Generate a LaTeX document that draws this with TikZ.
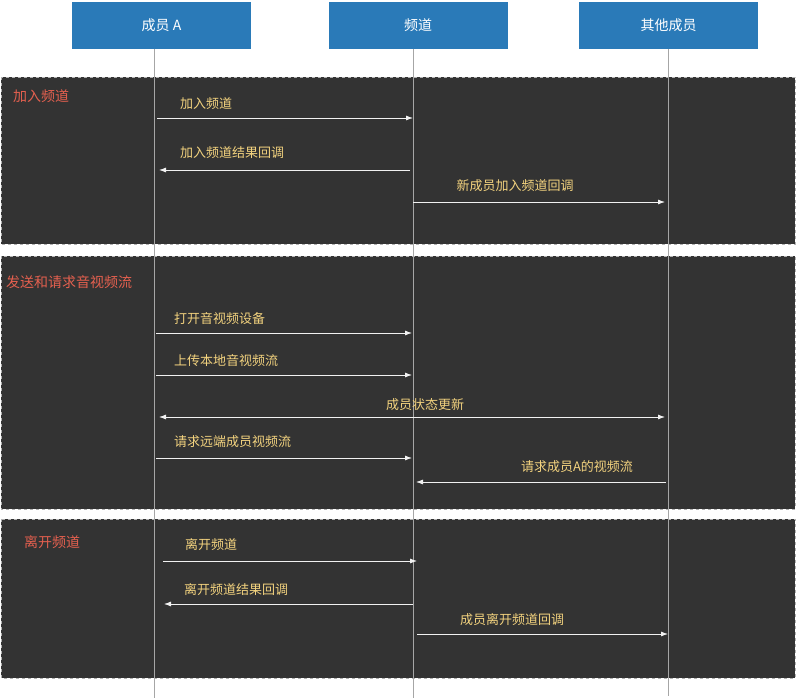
\documentclass[tikz,border=0pt]{standalone}
\usepackage{fontspec}
\setmainfont{Noto Sans CJK SC}
\usetikzlibrary{calc, arrows.meta}
\definecolor{hdrblue}{HTML}{2A7AB8}
\definecolor{panel}{HTML}{333333}
\definecolor{seclbl}{HTML}{E5604F}
\definecolor{msglbl}{HTML}{F2D27E}
\tikzset{
    header/.style={fill=hdrblue, text=white, minimum width=179pt, minimum height=47pt, inner sep=0pt, font=\fontsize{14}{16}\selectfont},
    section/.style={fill=panel, draw=gray!60, dashed},
    seclabel/.style={text=seclbl, anchor=west, inner sep=0pt, font=\fontsize{14}{16}\selectfont},
    msglabel/.style={text=msglbl, inner sep=0pt, font=\fontsize{13}{15}\selectfont},
    lifeline/.style={draw=gray!70, line width=0.8pt},
    msg/.style={draw=white!90!gray, line width=0.8pt, -{Latex[length=7pt,width=5pt]}}
}
\begin{document}
\begin{tikzpicture}[x=1pt,y=-1pt]
    \useasboundingbox (0,0) rectangle (796,700);

    % sections
    \draw[section] (1,77) rectangle (795,244);
    \draw[section] (1,256) rectangle (795,509);
    \draw[section] (1,519) rectangle (795,678);
    \node[seclabel] (sec_join) at (13,96) {加入频道};
    \node[seclabel] (sec_media) at (6,282) {发送和请求音视频流};
    \node[seclabel] (sec_leave) at (24,542) {离开频道};

    % participants
    \node[header] (memberA) at (161.5,25.5) {成员 A};
    \node[header] (channel) at (418,25.5) {频道};
    \node[header] (others) at (668.5,25.5) {其他成员};

    \coordinate (A_end) at (154,698);
    \coordinate (C_end) at (413,698);
    \coordinate (O_end) at (668,696);
    \draw[lifeline] (memberA.south -| A_end) -- (A_end);
    \draw[lifeline] (channel.south -| C_end) -- (C_end);
    \draw[lifeline] (others.south -| O_end) -- (O_end);

    % join
    \coordinate (j1s) at (157,118); \coordinate (j1e) at (413,118);
    \draw[msg] (j1s) -- (j1e);
    \node[msglabel, anchor=west] at (180,104) {加入频道};
    \coordinate (j2s) at (410,170); \coordinate (j2e) at (159,170);
    \draw[msg] (j2s) -- (j2e);
    \node[msglabel, anchor=west] at (180,153) {加入频道结果回调};
    \coordinate (j3s) at (413,202); \coordinate (j3e) at (665,202);
    \draw[msg] (j3s) -- (j3e);
    \node[msglabel] at (515,186) {新成员加入频道回调};

    % media
    \coordinate (m1s) at (156,333); \coordinate (m1e) at (412,333);
    \draw[msg] (m1s) -- (m1e);
    \node[msglabel, anchor=west] at (174,319) {打开音视频设备};
    \coordinate (m2s) at (156,375); \coordinate (m2e) at (412,375);
    \draw[msg] (m2s) -- (m2e);
    \node[msglabel, anchor=west] at (174,361) {上传本地音视频流};
    \coordinate (m3s) at (159,417); \coordinate (m3e) at (665,417);
    \draw[msg, {Latex[length=7pt,width=5pt]}-{Latex[length=7pt,width=5pt]}] (m3s) -- (m3e);
    \node[msglabel] at (425,405) {成员状态更新};
    \coordinate (m4s) at (156,458); \coordinate (m4e) at (412,458);
    \draw[msg] (m4s) -- (m4e);
    \node[msglabel, anchor=west] at (174,442) {请求远端成员视频流};
    \coordinate (m5s) at (666,482); \coordinate (m5e) at (416,482);
    \draw[msg] (m5s) -- (m5e);
    \node[msglabel] at (577,467) {请求成员A的视频流};

    % leave
    \coordinate (l1s) at (163,561); \coordinate (l1e) at (417,561);
    \draw[msg] (l1s) -- (l1e);
    \node[msglabel, anchor=west] at (185,545) {离开频道};
    \coordinate (l2s) at (413,604); \coordinate (l2e) at (164,604);
    \draw[msg] (l2s) -- (l2e);
    \node[msglabel, anchor=west] at (184,590) {离开频道结果回调};
    \coordinate (l3s) at (417,634); \coordinate (l3e) at (668,634);
    \draw[msg] (l3s) -- (l3e);
    \node[msglabel, anchor=west] at (460,620) {成员离开频道回调};
\end{tikzpicture}
\end{document}
